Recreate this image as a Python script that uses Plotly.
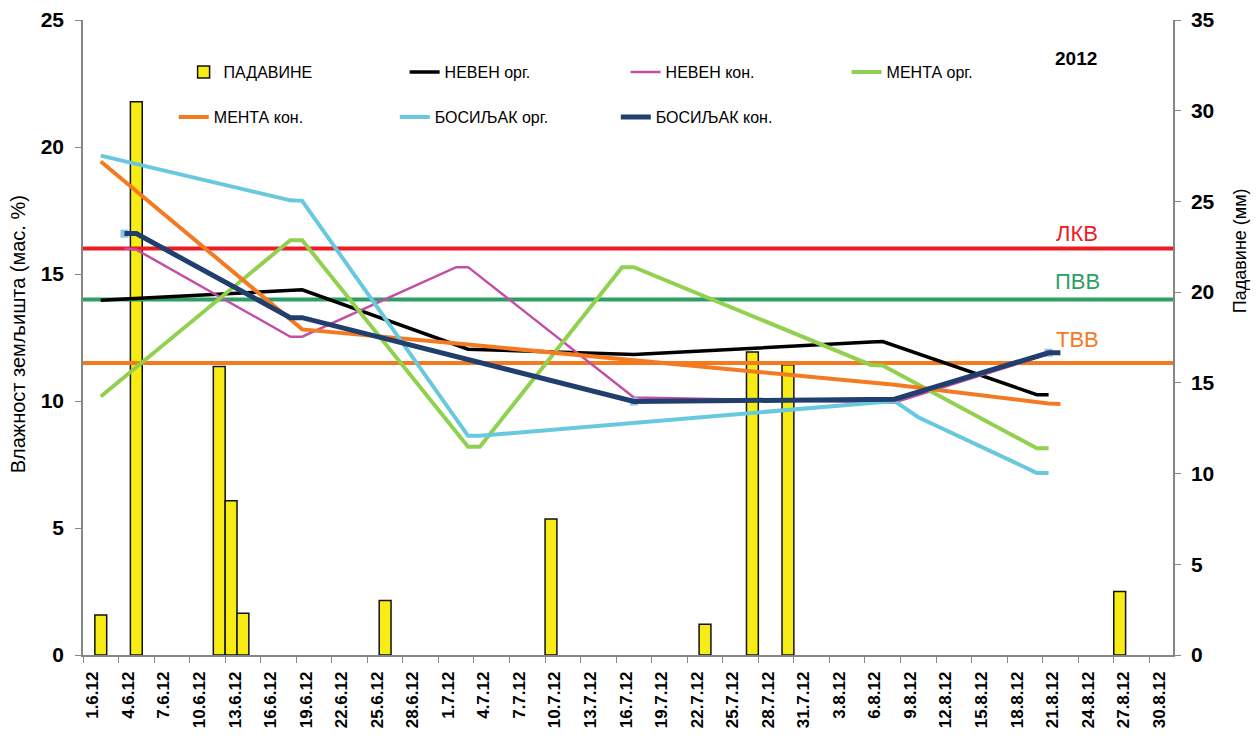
import plotly.graph_objects as go
from datetime import datetime, timedelta

# ---------------- DATA ----------------
tick_labels = ["1.6.12", "4.6.12", "7.6.12", "10.6.12", "13.6.12", "16.6.12", "19.6.12",
               "22.6.12", "25.6.12", "28.6.12", "1.7.12", "4.7.12", "7.7.12", "10.7.12",
               "13.7.12", "16.7.12", "19.7.12", "22.7.12", "25.7.12", "28.7.12", "31.7.12",
               "3.8.12", "6.8.12", "9.8.12", "12.8.12", "15.8.12", "18.8.12", "21.8.12",
               "24.8.12", "27.8.12", "30.8.12"]

# Precipitation (mm), right axis
rain_dates = ["2012-06-02", "2012-06-05", "2012-06-12", "2012-06-13", "2012-06-14",
              "2012-06-26", "2012-07-10", "2012-07-23", "2012-07-27", "2012-07-30",
              "2012-08-27"]
rain_mm = [2.2, 30.5, 15.9, 8.5, 2.3, 3.0, 7.5, 1.7, 16.7, 16.0, 3.5]

# Soil moisture (mass %), left axis
neven_org_dates = ["2012-06-02", "2012-06-18", "2012-06-19", "2012-07-03", "2012-07-17",
                   "2012-08-06", "2012-08-07", "2012-08-20", "2012-08-21"]
neven_org_vals = [13.97, 14.35, 14.38, 12.04, 11.83, 12.32, 12.34, 10.25, 10.25]

neven_kon_dates = ["2012-06-04", "2012-06-05", "2012-06-18", "2012-06-19", "2012-07-02",
                   "2012-07-03", "2012-07-17", "2012-08-08", "2012-08-21"]
neven_kon_vals = [16.0, 15.96, 12.53, 12.53, 15.27, 15.27, 10.14, 9.94, 11.85]

menta_org_dates = ["2012-06-02", "2012-06-18", "2012-06-19", "2012-07-03", "2012-07-04",
                   "2012-07-16", "2012-07-17", "2012-08-06", "2012-08-07", "2012-08-20",
                   "2012-08-21"]
menta_org_vals = [10.18, 16.33, 16.33, 8.2, 8.2, 15.27, 15.27, 11.42, 11.4, 8.14, 8.14]

menta_kon_dates = ["2012-06-02", "2012-06-19", "2012-07-03", "2012-07-17", "2012-08-07",
                   "2012-08-08", "2012-08-21", "2012-08-22"]
menta_kon_vals = [19.43, 12.82, 12.22, 11.6, 10.66, 10.64, 9.9, 9.88]

bosiljak_org_dates = ["2012-06-02", "2012-06-18", "2012-06-19", "2012-07-03", "2012-07-04",
                      "2012-07-17", "2012-08-08", "2012-08-10", "2012-08-20", "2012-08-21"]
bosiljak_org_vals = [19.66, 17.9, 17.88, 8.63, 8.63, 9.15, 10.0, 9.36, 7.17, 7.17]

bosiljak_kon_dates = ["2012-06-04", "2012-06-05", "2012-06-18", "2012-06-19", "2012-07-17",
                      "2012-08-08", "2012-08-21", "2012-08-22"]
bosiljak_kon_vals = [16.59, 16.59, 13.28, 13.28, 9.98, 10.07, 11.9, 11.9]
bosiljak_kon_marker_idx = [0, 4, 6]

level_names = ["ЛКВ", "ПВВ", "ТВВ"]
level_vals = [16.0, 14.0, 11.5]
level_colors = ["#EC1C24", "#2E9E63", "#F47A22"]

# ---------------- AXIS HELPERS ----------------
def parse_label(s):
    d, m, y = s.split(".")
    return datetime(2000 + int(y), int(m), int(d))

tick_dates = [parse_label(s) for s in tick_labels]
half_day = timedelta(hours=12)
x_start = tick_dates[0] - half_day
x_end = datetime(2012, 8, 31) + half_day
edge_ticks = [t - half_day for t in tick_dates]
label_pos = [t + timedelta(hours=8) for t in tick_dates]

FONT = "Liberation Sans, Arial, sans-serif"

fig = go.Figure()

fig.add_trace(go.Bar(
    x=rain_dates, y=rain_mm, name="ПАДАВИНЕ", yaxis="y",
    width=86400000, marker=dict(color="#F7EC14", line=dict(color="#111111", width=1.5)),
    legend="legend",
))

# reference levels
for nm, v, c in zip(level_names, level_vals, level_colors):
    fig.add_trace(go.Scatter(
        x=[x_start, x_end], y=[v, v], mode="lines", yaxis="y2",
        line=dict(color=c, width=4), showlegend=False, hoverinfo="skip",
    ))

series = [
    ("НЕВЕН орг.", neven_org_dates, neven_org_vals, "#000000", 3.5, "legend"),
    ("НЕВЕН кон.", neven_kon_dates, neven_kon_vals, "#C24FA6", 2.5, "legend"),
    ("МЕНТА орг.", menta_org_dates, menta_org_vals, "#92D050", 4, "legend"),
    ("МЕНТА кон.", menta_kon_dates, menta_kon_vals, "#F47A22", 4, "legend2"),
    ("БОСИЉАК орг.", bosiljak_org_dates, bosiljak_org_vals, "#68C8DE", 4, "legend2"),
]
for nm, xs, ys, c, w, lg in series:
    fig.add_trace(go.Scatter(
        x=xs, y=ys, mode="lines", name=nm, yaxis="y2",
        line=dict(color=c, width=w), legend=lg,
    ))

# markers of БОСИЉАК кон. (under its line)
fig.add_trace(go.Scatter(
    x=[bosiljak_kon_dates[i] for i in bosiljak_kon_marker_idx],
    y=[bosiljak_kon_vals[i] for i in bosiljak_kon_marker_idx],
    mode="markers", yaxis="y2", showlegend=False, hoverinfo="skip",
    marker=dict(symbol="square", size=8, color="#8CC3E0"),
))
fig.add_trace(go.Scatter(
    x=bosiljak_kon_dates, y=bosiljak_kon_vals, mode="lines", name="БОСИЉАК кон.",
    yaxis="y2", line=dict(color="#203F6E", width=5), legend="legend2",
))

annotations = []
level_shift = [1, 3, 9]
for nm, v, c, sh in zip(level_names, level_vals, level_colors, level_shift):
    annotations.append(dict(
        x=0.912, xref="paper", xanchor="center", y=v, yref="y2", yanchor="bottom",
        yshift=sh, text=nm, showarrow=False, font=dict(family=FONT, size=22, color=c),
    ))
annotations.append(dict(x=0.911, xref="paper", xanchor="center", y=0.94, yref="paper",
                        yanchor="middle", text="<b>2012</b>", showarrow=False,
                        font=dict(family=FONT, size=19, color="#000")))
annotations.append(dict(x=-0.0596, xref="paper", xanchor="center", y=0.505, yref="paper",
                        yanchor="middle", text="Влажност земљишта (мас. %)", textangle=-90,
                        showarrow=False, font=dict(family=FONT, size=20, color="#000")))
annotations.append(dict(x=1.0615, xref="paper", xanchor="center", y=0.636, yref="paper",
                        yanchor="middle", text="Падавине (мм)", textangle=-90,
                        showarrow=False, font=dict(family=FONT, size=18, color="#000")))

axis_col = "#868686"
fig.update_layout(
    width=1244, height=720,
    margin=dict(l=75, r=79, t=12, b=73, autoexpand=False),
    paper_bgcolor="white", plot_bgcolor="white",
    font=dict(family=FONT, color="#000"),
    hovermode=False,
    barmode="overlay",
    xaxis=dict(
        type="date", range=[x_start, x_end], automargin=False,
        tickmode="array", tickvals=label_pos, ticktext=tick_labels,
        tickangle=-90, ticks="", ticklabelstandoff=8, ticklabeloverflow="allow",
        tickfont=dict(family=FONT, size=17, color="#000", weight="bold"),
        showline=True, linecolor=axis_col, linewidth=1.5, showgrid=False, zeroline=False,
        minor=dict(tickmode="array", tickvals=edge_ticks, ticks="outside", ticklen=6,
                   tickcolor=axis_col, tickwidth=1.2, showgrid=False),
    ),
    yaxis=dict(
        range=[0, 35], dtick=5, side="right", anchor="x", automargin=False,
        showline=True, linecolor=axis_col, linewidth=1.5, ticks="outside", ticklen=6,
        tickcolor=axis_col, showgrid=False, zeroline=False, ticklabelstandoff=6,
        ticklabeloverflow="allow",
        tickfont=dict(family=FONT, size=21, color="#000", weight="bold"),
    ),
    yaxis2=dict(
        range=[0, 25], dtick=5, side="left", overlaying="y", anchor="x", automargin=False,
        showline=True, linecolor=axis_col, linewidth=1.5, ticks="outside", ticklen=6,
        tickcolor=axis_col, showgrid=False, zeroline=False, ticklabelstandoff=7,
        ticklabeloverflow="allow",
        tickfont=dict(family=FONT, size=21, color="#000", weight="bold"),
    ),
    legend=dict(orientation="h", x=0.0923, y=0.918, xanchor="left", yanchor="middle",
                entrywidth=176, entrywidthmode="pixels", bgcolor="rgba(0,0,0,0)",
                font=dict(family=FONT, size=16, color="#000")),
    legend2=dict(orientation="h", x=0.0833, y=0.847, xanchor="left", yanchor="middle",
                 entrywidth=176, entrywidthmode="pixels", bgcolor="rgba(0,0,0,0)",
                 font=dict(family=FONT, size=16, color="#000")),
    annotations=annotations,
)

fig.write_html("out.html")
